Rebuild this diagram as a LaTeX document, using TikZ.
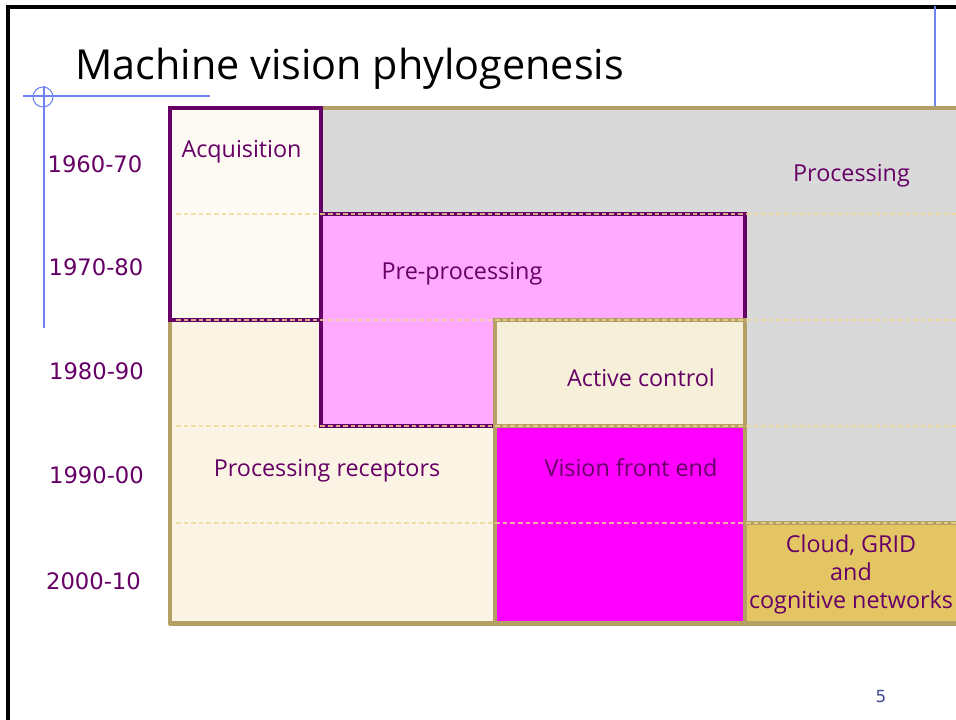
\documentclass[tikz,border=0pt]{standalone}
\usepackage{fontspec}
\setmainfont{Open Sans}
\newfontfamily\yearfont{DejaVu Sans}
\usetikzlibrary{calc}

\definecolor{framegray}{HTML}{000000}
\definecolor{guideblue}{HTML}{6F82F2}
\definecolor{labelpurple}{HTML}{660066}
\definecolor{edgetan}{HTML}{B4A064}
\definecolor{procgray}{HTML}{D9D9D9}
\definecolor{acqcream}{HTML}{FDFAF3}
\definecolor{reccream}{HTML}{FBF4E4}
\definecolor{actcream}{HTML}{F6EFD9}
\definecolor{prepink}{HTML}{FFAAFF}
\definecolor{vfemagenta}{HTML}{FF00FF}
\definecolor{cloudgold}{HTML}{E3C663}
\definecolor{rowdash}{HTML}{F0D890}
\definecolor{pageblue}{HTML}{3F4A8C}

\tikzset{
  pane/.style={line width=2.7pt, line join=miter},
  tanpane/.style={pane, draw=edgetan},
  purplepane/.style={pane, draw=labelpurple},
  rowline/.style={draw=rowdash, line width=1pt, draw opacity=0.8, dash pattern=on 3.5pt off 2.2pt},
  guide/.style={draw=guideblue, line width=0.8pt},
  boxtext/.style={text=labelpurple, font=\fontsize{17.5}{21}\selectfont, inner sep=0pt, anchor=base},
  yeartext/.style={text=labelpurple, font=\yearfont\fontsize{17}{20}\selectfont, inner sep=0pt, anchor=base},
}

\begin{document}
\begin{tikzpicture}[x=0.75pt, y=-0.75pt]
\useasboundingbox (0,0) rectangle (956,720);

% slide frame
\draw[line width=2.4pt, draw=framegray] (8,730) -- (8,7) -- (970,7);

% layout guides
\draw[guide] (23,96) -- (210,96);
\draw[guide] (44,86) -- (44,328);
\draw[guide] (43,97) circle (10);
\draw[guide] (935,6) -- (935,108);

% title
\node[anchor=base west, inner sep=0pt, font=\fontsize{31}{37}\selectfont] (title) at (75,80) {Machine vision phylogenesis};

% processing (background block)
\fill[procgray] (321,108) rectangle (970,523);
\draw[tanpane] (321,108) -- (970,108);

% processing receptors
\filldraw[tanpane, fill=reccream] (170,320) rectangle (495,623);

% acquisition
\filldraw[purplepane, fill=acqcream] (170,108) rectangle (321,320);

% pre-processing
\filldraw[purplepane, fill=prepink] (321,214) -- (745,214) -- (745,320) -- (495,320) -- (495,426) -- (321,426) -- cycle;

% active control
\filldraw[tanpane, fill=actcream] (495,320) rectangle (745,426);

% vision front end
\filldraw[tanpane, fill=vfemagenta] (495,426) rectangle (745,623);

% cloud, grid and cognitive networks
\filldraw[tanpane, fill=cloudgold] (745,523) rectangle (970,623);

% table bottom edge
\draw[draw=edgetan, line width=3.2pt] (169,623.5) -- (970,623.5);

% decade separators
\foreach \yy in {214,320,426,523}
  \draw[rowline] (176,\yy) -- (970,\yy);

% decades
\node[yeartext] (y60) at (95,173) {1960-70};
\node[yeartext] (y70) at (96,276) {1970-80};
\node[yeartext] (y80) at (96.5,379) {1980-90};
\node[yeartext] (y90) at (96.5,483) {1990-00};
\node[yeartext] (y00) at (93.5,589) {2000-10};

% block labels
\node[boxtext] (acq) at (241.5,158) {Acquisition};
\node[boxtext] (proc) at (851.5,182) {Processing};
\node[boxtext] (pre) at (462,279) {Pre-processing};
\node[boxtext] (act) at (641,386) {Active control};
\node[boxtext] (rec) at (327,476) {Processing receptors};
\node[boxtext] (vfe) at (631,476) {Vision front end};
\node[boxtext] (cl1) at (851,552) {Cloud, GRID};
\node[boxtext] (cl2) at (851,580) {and};
\node[boxtext] (cl3) at (851,608) {cognitive networks};

% page number
\node[anchor=base, inner sep=0pt, text=pageblue, font=\yearfont\fontsize{12.5}{15}\selectfont] (page) at (881,702) {5};
\end{tikzpicture}
\end{document}
